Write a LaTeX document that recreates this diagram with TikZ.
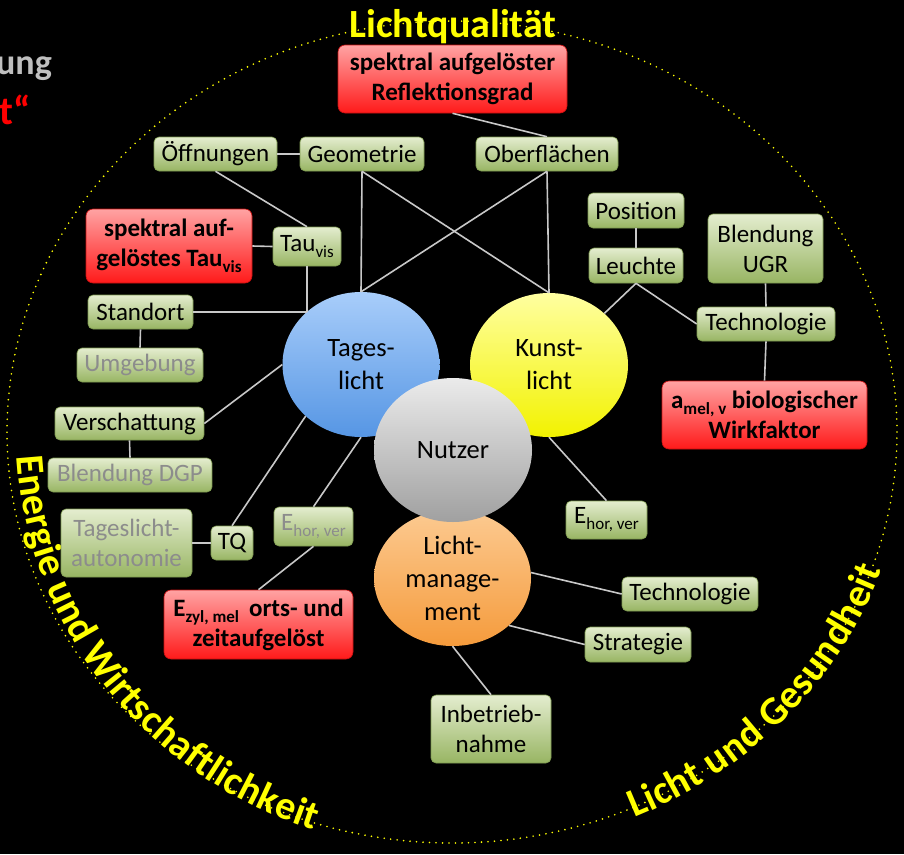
\documentclass[tikz,border=0pt]{standalone}
\usepackage{fontspec}
\setmainfont{Carlito}
\usetikzlibrary{shapes.geometric,decorations.text}
\definecolor{gtop}{HTML}{E4EDCF}
\definecolor{gbot}{HTML}{98B563}
\definecolor{gdraw}{HTML}{7E9A50}
\definecolor{rtop}{HTML}{FFA3A3}
\definecolor{rbot}{HTML}{FF1A1A}
\definecolor{rdraw}{HTML}{C81010}
\definecolor{fadedtxt}{HTML}{8C8C8C}
\definecolor{linec}{HTML}{C8C8C8}
\definecolor{ringy}{HTML}{FFFF00}
\definecolor{cornergray}{HTML}{BFBFBF}
\newcommand\subtxt[1]{\raisebox{-6pt}{\fontsize{17}{17}\selectfont #1}}
\newcommand\ringfont{\bfseries\fontsize{40}{40}\selectfont}
\tikzset{
  wh/.style 2 args={minimum width=#1pt, minimum height=#2pt},
  gbox/.style={rectangle, rounded corners=5pt, draw=gdraw, line width=0.6pt,
    top color=gtop, bottom color=gbot, inner sep=0pt, align=center,
    font=\fontsize{25}{30}\selectfont, text=black},
  rbox/.style={rectangle, rounded corners=7pt, draw=rdraw, line width=0.6pt,
    top color=rtop, bottom color=rbot, inner sep=0pt, align=center,
    font=\bfseries\fontsize{25}{30}\selectfont, text=black},
  fadedbox/.style={gbox, text=fadedtxt},
  bubble/.style={ellipse, inner sep=0pt, align=center,
    font=\fontsize{26.5}{33}\selectfont, text=black},
  conn/.style={draw=linec, line width=1.6pt},
}
\begin{document}
\begin{tikzpicture}[x=1pt,y=-1pt]
\useasboundingbox (0,0) rectangle (904,854);
\fill[black] (0,0) rectangle (904,854);

% cut-off title fragments
\node[anchor=base east, inner sep=0pt, text=cornergray, font=\bfseries\fontsize{36}{36}\selectfont] (ung) at (52,74) {ung};
\node[anchor=base east, inner sep=0pt, text=red, font=\bfseries\fontsize{40}{40}\selectfont] (quote) at (31,124) {t“};

% ring
\begin{scope}[y=1pt]
  \draw[ringy, line width=1.8pt, line cap=round, dash pattern=on 0pt off 6.5pt]
    (452,-432) ellipse[x radius=445, y radius=411];
  \path[decorate, decoration={text along path, text={|\ringfont|Energie und Wirtschaftlichkeit},
      text color=ringy, text align=center, raise=-4pt}]
    (452,-432) ++(160:432 and 416) arc[start angle=160, end angle=274, x radius=432, y radius=416];
  \path[decorate, decoration={text along path, text={|\ringfont|Licht und Gesundheit},
      text color=ringy, text align=center, raise=-10pt}]
    (452,-432) ++(261.5:445 and 411) arc[start angle=261.5, end angle=375.5, x radius=445, y radius=411];
\end{scope}
\node[anchor=base, inner sep=0pt, text=ringy, font=\ringfont] (lq) at (453,37) {Lichtqualität};

% circles
\node[bubble, wh={157}{145}, top color={rgb,255:red,168;green,205;blue,250}, bottom color={rgb,255:red,86;green,150;blue,228}] (tl) at (361,364.5) {Tages-\\licht};
\node[bubble, wh={158}{144}, top color={rgb,255:red,255;green,255;blue,160}, bottom color={rgb,255:red,242;green,242;blue,0}] (kl) at (549,365) {Kunst-\\licht};
\node[bubble, wh={157}{136}, top color={rgb,255:red,252;green,202;blue,145}, bottom color={rgb,255:red,245;green,155;blue,60}] (lm) at (452.5,578) {Licht-\\manage-\\ment};
\node[bubble, wh={158}{144}, top color={rgb,255:red,235;green,235;blue,235}, bottom color={rgb,255:red,160;green,160;blue,160}] (nutzer) at (453,450) {Nutzer};

% boxes
\node[rbox, wh={229}{68}] (reflex) at (452.5,79) {spektral aufgelöster\\Reflektionsgrad};
\node[gbox, wh={123}{34}] (oeff) at (215.5,154) {Öffnungen};
\node[gbox, wh={124}{34}] (geo) at (362,154) {Geometrie};
\node[gbox, wh={142}{34}] (ober) at (547,154) {Oberflächen};
\node[gbox, wh={96}{35}] (pos) at (636,210.5) {Position};
\node[gbox, wh={94}{35}] (leuchte) at (636,265.5) {Leuchte};
\node[gbox, wh={115}{69}] (ugr) at (765.5,248.5) {Blendung\\UGR};
\node[gbox, wh={138}{34}] (tech1) at (766,324) {Technologie};
\node[rbox, wh={205}{68}] (amel) at (764.5,415) {a\subtxt{mel, v} biologischer\\Wirkfaktor};
\node[gbox, wh={68}{39}] (tau) at (307,246.5) {Tau\subtxt{vis}};
\node[rbox, wh={166}{74}] (redtau) at (169,246) {spektral auf-\\gelöstes Tau\subtxt{vis}};
\node[gbox, wh={105}{34}] (standort) at (140.5,312) {Standort};
\node[fadedbox, wh={126}{34}] (umgeb) at (140,365) {Umgebung};
\node[gbox, wh={149}{33}] (versch) at (129.5,423.5) {Verschattung};
\node[fadedbox, wh={164}{34}] (dgp) at (130,475) {Blendung DGP};
\node[fadedbox, wh={131}{68}] (tlauto) at (126.5,543) {Tageslicht-\\autonomie};
\node[gbox, wh={42}{34}] (tq) at (232,543) {TQ};
\node[fadedbox, wh={79}{39}] (ehl) at (313.5,526.5) {E\subtxt{hor, ver}};
\node[rbox, wh={189}{69}] (ezyl) at (258.5,624.5) {E\subtxt{zyl, mel}\hspace{10pt}orts- und\\zeitaufgelöst};
\node[gbox, wh={81}{38}] (ehr) at (606.5,520) {E\subtxt{hor, ver}};
\node[gbox, wh={136}{34}] (tech2) at (690,594) {Technologie};
\node[gbox, wh={106}{35}] (strat) at (638,644.5) {Strategie};
\node[gbox, wh={120}{68}] (inbetr) at (491,729) {Inbetrieb-\\nahme};

% connectors
\draw[conn] (oeff.east) -- (geo.west);
\draw[conn] (oeff.south) -- (tau.north);
\draw[conn] (redtau.east) -- (tau.west);
\draw[conn] (tau.south) -- (tau.south |- standort.east);
\draw[conn] (standort.east) -- (tau.south |- standort.east);
\draw[conn] (geo.south) -- (tl.north);
\draw[conn] (geo.south) -- (kl.north);
\draw[conn] (ober.south) -- (tl.north);
\draw[conn] (ober.south) -- (kl.north);
\draw[conn] (reflex.south) -- (ober.north);
\draw[conn] (pos.south) -- (leuchte.north);
\draw[conn] (leuchte.south) -- (kl.43);
\draw[conn] (leuchte.south) -- (tech1.west);
\draw[conn] (ugr.south) -- (tech1.north);
\draw[conn] (tech1.south) -- (amel.north);
\draw[conn] (standort.south) -- (umgeb.north);
\draw[conn] (versch.east) -- (tl.west);
\draw[conn] (versch.south) -- (dgp.north);
\draw[conn] (tlauto.east) -- (tq.west);
\draw[conn] (tq.north) -- (tl.223);
\draw[conn] (ehl.north) -- (tl.south);
\draw[conn] (ehl.south) -- (ezyl.north);
\draw[conn] (kl.south) -- (ehr.north);
\draw[conn] (lm.4) -- (tech2.west);
\draw[conn] (lm.-40) -- (strat.west);
\draw[conn] (lm.south) -- (inbetr.north);
\end{tikzpicture}
\end{document}
